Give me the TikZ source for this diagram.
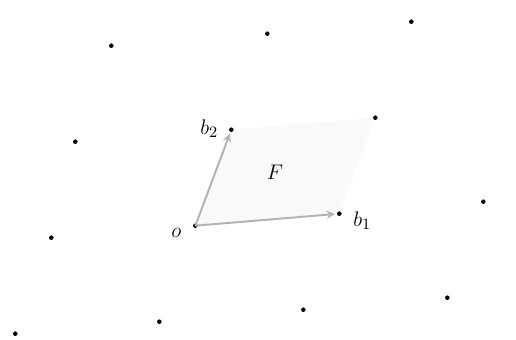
\documentclass[tikz,border=0pt]{standalone}
\usepackage{amsmath}
\usepackage{tikz}
\usetikzlibrary{arrows}
\tikzstyle{vec} = [black!30, line width=1.1pt, -stealth, shorten >=2.5pt]
\tikzstyle{cell} = [fill=black!2.5]
\tikzstyle{pt} = [fill=black]
\tikzstyle{lab} = [font=\fontsize{13}{15}\selectfont, inner sep=0pt]

\begin{document}
\begin{tikzpicture}[x=0.02cm, y=-0.02cm]
    \useasboundingbox (0,0) rectangle (516,340);

    % lattice points
    \coordinate (o) at (195.3,225.7);
    \coordinate (b1) at (339.3,213.7);
    \coordinate (b2) at (231.3,129.7);
    \coordinate (b12) at (375.3,117.7);
    \coordinate (p1) at (111.3,45.7);
    \coordinate (p2) at (267.3,33.7);
    \coordinate (p3) at (411.3,21.7);
    \coordinate (p4) at (75.3,141.7);
    \coordinate (p5) at (483.3,201.7);
    \coordinate (p6) at (51.3,237.7);
    \coordinate (p7) at (15.3,333.7);
    \coordinate (p8) at (159.3,321.7);
    \coordinate (p9) at (303.3,309.7);
    \coordinate (p10) at (447.3,297.7);

    % fundamental cell
    \fill[cell] (o) -- (b1) -- (b12) -- (b2) -- cycle;

    \foreach \p in {o,b1,b2,b12,p1,p2,p3,p4,p5,p6,p7,p8,p9,p10}
        \fill[pt] (\p) circle (1.3pt);

    % basis vectors
    \draw[vec] (o) -- (b1);
    \draw[vec] (o) -- (b2);

    \node (olab) [lab] at (o) [xshift=-0.38cm, yshift=-0.14cm] {$o$};
    \node (b1lab) [lab] at (b1) [xshift=0.46cm, yshift=-0.14cm] {$b_1$};
    \node (b2lab) [lab] at (b2) [xshift=-0.44cm, yshift=0.02cm] {$b_2$};
    \node (flab) [lab] at (275,172) {$F$};
\end{tikzpicture}
\end{document}
